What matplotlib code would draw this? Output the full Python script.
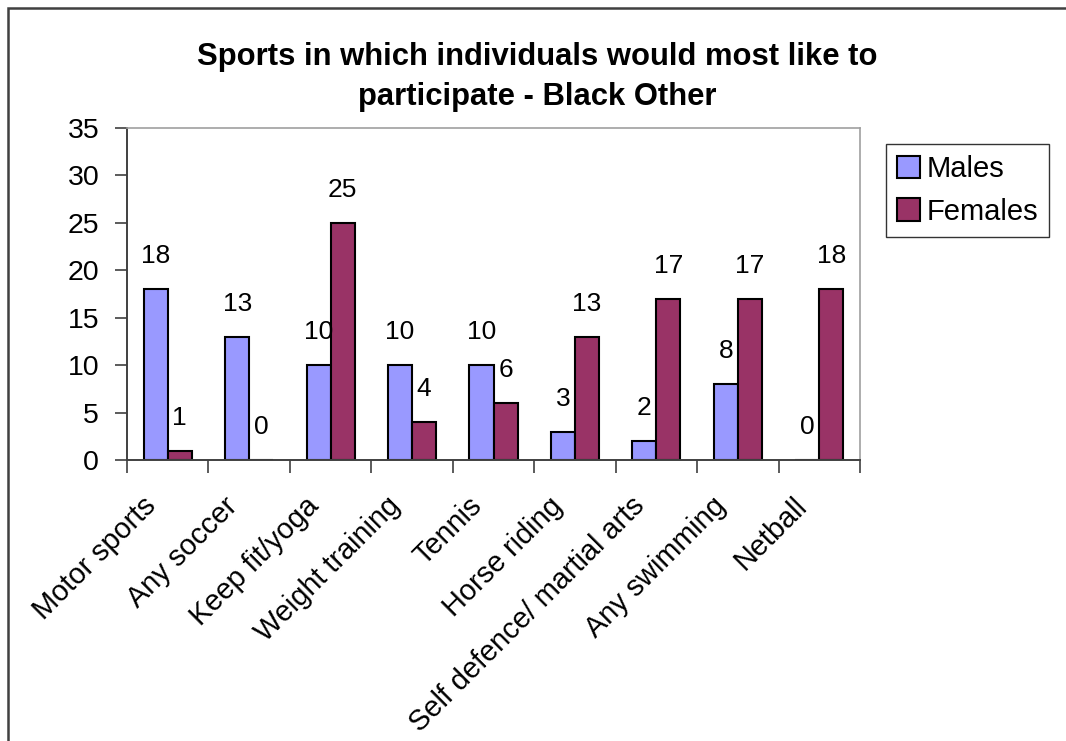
import matplotlib
matplotlib.use("Agg")
import matplotlib.pyplot as plt
import matplotlib.patches as mpatches
import numpy as np

plt.rcParams["font.family"] = ["Liberation Sans", "DejaVu Sans"]

categories = [
    "Motor sports",
    "Any soccer",
    "Keep fit/yoga",
    "Weight training",
    "Tennis",
    "Horse riding",
    "Self defence/ martial arts",
    "Any swimming",
    "Netball",
]
males = [18, 13, 10, 10, 10, 3, 2, 8, 0]
females = [1, 0, 25, 4, 6, 13, 17, 17, 18]
y_ticks = [0, 5, 10, 15, 20, 25, 30, 35]

W, H = 1066, 741
fig = plt.figure(figsize=(W / 100, H / 100), dpi=100)
ax = fig.add_axes([127 / W, 1 - 460 / H, (860 - 127) / W, (460 - 128) / H])

x = np.arange(len(categories))
bw = 0.295
b1 = ax.bar(x - bw / 2, males, bw, color="#9999FF", edgecolor="black",
            linewidth=1.5, label="Males")
b2 = ax.bar(x + bw / 2, females, bw, color="#993366", edgecolor="black",
            linewidth=1.5, label="Females")

for bars, vals in ((b1, males), (b2, females)):
    for rect, v in zip(bars, vals):
        ax.annotate(str(v), (rect.get_x() + rect.get_width() / 2, v),
                    xytext=(0, 15), textcoords="offset points",
                    ha="center", va="bottom", fontsize=19)

ax.set_xlim(-0.5, len(categories) - 0.5)
ax.set_ylim(0, 35)
ax.set_yticks(y_ticks)
ax.tick_params(axis="y", labelsize=20.5, length=9, width=1.2, color="#404040", pad=11)

# category boundaries carry the tick marks, labels sit at the centres
ax.set_xticks(np.arange(len(categories) + 1) - 0.5)
ax.set_xticklabels([])
ax.tick_params(axis="x", length=9, width=1.2, color="#404040")
for xi, name in zip(x, categories):
    ax.text(xi - 0.2, -4.4, name, rotation=45, rotation_mode="anchor",
            ha="right", va="center", fontsize=20.8)

for side in ("top", "right"):
    ax.spines[side].set_color("#A0A0A0")
    ax.spines[side].set_linewidth(1.2)
for side in ("left", "bottom"):
    ax.spines[side].set_color("#404040")
    ax.spines[side].set_linewidth(1.4)

fig.text(537 / W, 1 - 42 / H,
         "Sports in which individuals would most like to\nparticipate - Black Other",
         ha="center", va="top", fontsize=22.3, fontweight="bold", linespacing=1.42)

leg = fig.legend(loc="upper left", bbox_to_anchor=(886 / W, 1 - 144 / H),
                 fontsize=21, frameon=True, fancybox=False, edgecolor="black",
                 handlelength=0.8, handleheight=0.8, handletextpad=0.2,
                 borderpad=0.38, labelspacing=0.5, borderaxespad=0)
leg.get_frame().set_linewidth(1.0)

# outer chart border, cut off at the right and bottom
fig.patches.append(mpatches.Rectangle((8 / W, -0.1), 2, 1.1 - 8 / H,
                                      transform=fig.transFigure, fill=False,
                                      edgecolor="#404040", linewidth=1.8))

fig.savefig("out.png", dpi=100)
